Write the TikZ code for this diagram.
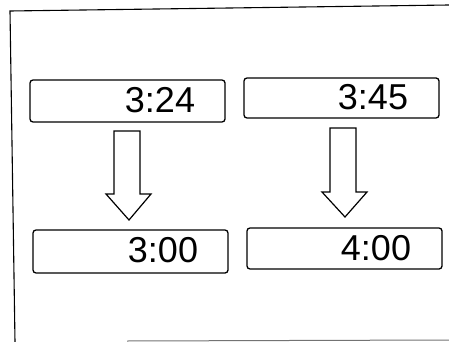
\documentclass[tikz,border=0pt]{standalone}
\usepackage{fontspec}
\setmainfont{Liberation Sans}
\begin{document}
\begin{tikzpicture}[x=1pt,y=-1pt,
  display/.style={draw=black,line width=1.3pt,rounded corners=3pt},
  digits/.style={font=\fontsize{36}{36}\selectfont,inner sep=0pt,anchor=center},
  bigarrow/.style={draw=black,line width=1.2pt,fill=white,line join=miter}]
\useasboundingbox (0,0) rectangle (449,342);
% frame
\coordinate (ftl) at (10,11);
\coordinate (ftr) at (449,5);
\coordinate (fbl) at (15,342);
\coordinate (fbs) at (127,341);
\coordinate (fbe) at (449,340);
\draw[line width=1.1pt] (ftr) -- (ftl) -- (fbl);
\draw[line width=1pt,black!55] (fbs) -- (fbe);
% displays
\draw[display] (30,80) rectangle (225,122);
\draw[display] (244,78) rectangle (439,118);
\draw[display] (33,230) rectangle (228,273);
\draw[display] (247,228) rectangle (442,269);
\node[digits] (t1) at (160,100) {3:24};
\node[digits] (t2) at (373,97) {3:45};
\node[digits] (t3) at (163,250) {3:00};
\node[digits] (t4) at (376,248) {4:00};
% arrows
\draw[bigarrow] (114,131) -- (140,131) -- (140,194) -- (151,194) -- (129,220)
  -- (106,194) -- (114,194) -- cycle;
\draw[bigarrow] (330,128) -- (356,128) -- (356,192) -- (367,192) -- (345,217)
  -- (322,192) -- (330,192) -- cycle;
\end{tikzpicture}
\end{document}
